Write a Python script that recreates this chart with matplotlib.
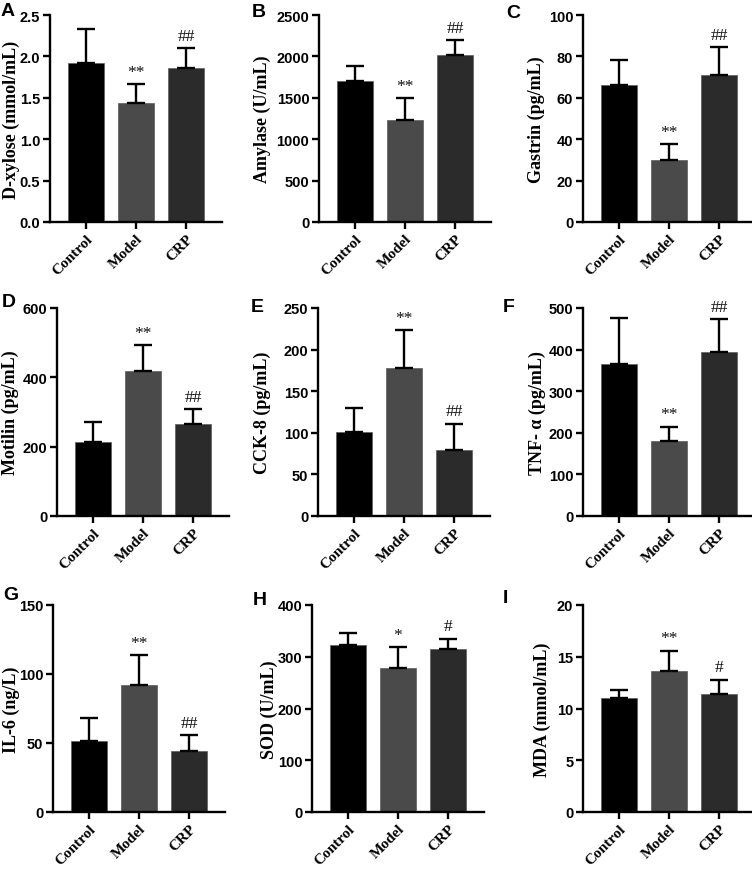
import numpy as np
import matplotlib
matplotlib.use("Agg")
import matplotlib.pyplot as plt

W, H = 752, 870

groups = ["Control", "Model", "CRP"]
bar_colors = ["#000000", "#4a4a4a", "#2b2b2b"]

letters = ["A", "B", "C", "D", "E", "F", "G", "H", "I"]
ylabels = ["D-xylose (mmol/mL)", "Amylase (U/mL)", "Gastrin (pg/mL)",
           "Motilin (pg/mL)", "CCK-8 (pg/mL)", "TNF- \u03b1 (pg/mL)",
           "IL-6 (ng/L)", "SOD (U/mL)", "MDA (mmol/mL)"]

means = [
    [1.92, 1.44, 1.86],
    [1700, 1230, 2015],
    [66, 30, 71],
    [213, 418, 265],
    [101, 178, 79],
    [366, 180, 394],
    [51.5, 92, 44],
    [322, 278, 315],
    [11.0, 13.6, 11.4],
]
errs = [
    [0.41, 0.23, 0.24],
    [190, 265, 185],
    [12.5, 7.5, 13.5],
    [57, 75, 43],
    [29, 45, 32],
    [109, 35, 79],
    [16.5, 22, 12],
    [24, 40, 20],
    [0.8, 2.0, 1.4],
]
marks = [
    ["", "**", "##"],
    ["", "**", "##"],
    ["", "**", "##"],
    ["", "**", "##"],
    ["", "**", "##"],
    ["", "**", "##"],
    ["", "**", "##"],
    ["", "*", "#"],
    ["", "**", "#"],
]
yticks = [
    [0.0, 0.5, 1.0, 1.5, 2.0, 2.5],
    [0, 500, 1000, 1500, 2000, 2500],
    [0, 20, 40, 60, 80, 100],
    [0, 200, 400, 600],
    [0, 50, 100, 150, 200, 250],
    [0, 100, 200, 300, 400, 500],
    [0, 50, 100, 150],
    [0, 100, 200, 300, 400],
    [0, 5, 10, 15, 20],
]

# layout in pixels
lefts = [50, 319, 583, 57, 318, 583, 53, 312, 583]
label_cx = [11, 262, 536, 10, 262, 537, 11, 269, 542]
row_top = [16, 309, 606]
row_bot = [223, 517, 813]
AX_W = 172
letter_xy = [(1, 16), (252, 17), (506, 18), (2, 307), (251, 312), (503, 312),
             (3, 600), (253, 605), (503, 603)]

SERIF = "Liberation Serif"
SANS = "Liberation Sans"

fig = plt.figure(figsize=(W / 100, H / 100), dpi=100)

for i in range(9):
    r = i // 3
    top, bot = row_top[r], row_bot[r]
    ax = fig.add_axes([lefts[i] / W, 1 - bot / H, AX_W / W, (bot - top) / H])
    x = np.arange(3)
    ax.bar(x, means[i], width=0.72, color=bar_colors, edgecolor="#5c5c5c",
           linewidth=0.5, zorder=2)
    ax.errorbar(x, means[i], yerr=[np.zeros(3), errs[i]], fmt="none",
                ecolor="black", elinewidth=1.7, capsize=6.5, capthick=1.7, zorder=3)
    for j in range(3):
        if marks[i][j]:
            ax.annotate(marks[i][j], (x[j], means[i][j] + errs[i][j]),
                        xytext=(0, 3), textcoords="offset points",
                        ha="center", va="bottom", fontsize=12.5,
                        family=SERIF, color="#111111")
    ax.set_xlim(-0.72, 2.72)
    ax.set_ylim(yticks[i][0], yticks[i][-1])
    ax.set_yticks(yticks[i])
    if i == 0:
        ax.set_yticklabels([f"{t:.1f}" for t in yticks[i]])
    ax.set_xticks(x)
    ax.set_xticklabels(groups, rotation=45, ha="right", va="top",
                       rotation_mode="anchor", family=SERIF,
                       fontweight="bold", fontsize=11)
    for lab in ax.get_yticklabels():
        lab.set_family(SANS)
        lab.set_fontweight("bold")
        lab.set_fontsize(10.5)
    for s in ["top", "right"]:
        ax.spines[s].set_visible(False)
    for s in ["left", "bottom"]:
        ax.spines[s].set_linewidth(1.7)
    ax.tick_params(direction="out", length=5, width=1.7, pad=2)
    ax.set_ylabel(ylabels[i], family=SERIF, fontweight="bold", fontsize=13)
    ax.yaxis.label.set_va("center")
    ax.yaxis.set_label_coords((label_cx[i] - lefts[i]) / AX_W, 0.5)
    fig.text(letter_xy[i][0] / W, 1 - letter_xy[i][1] / H, letters[i],
             family=SANS, fontweight="bold", fontsize=14, va="baseline")

fig.savefig("out.png", dpi=100)
